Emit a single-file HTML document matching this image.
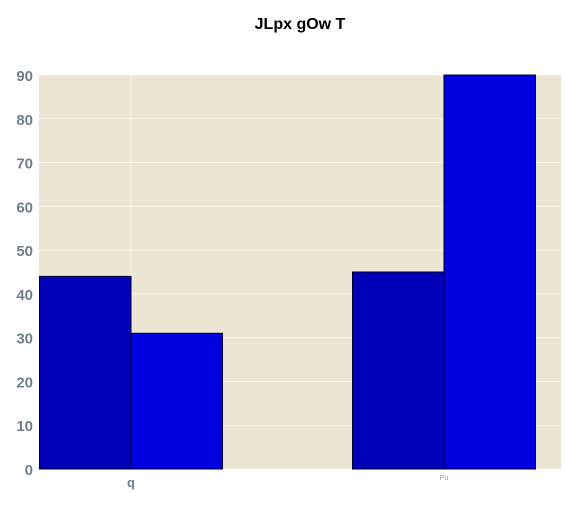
<!DOCTYPE html>
<html><head><meta charset="utf-8"><style>
body{margin:0;background:#fff;font-family:"Liberation Sans",sans-serif}
</style></head><body>
<svg width="576" height="504">
<text x="300" y="29" text-anchor="middle" font-size="16" font-weight="bold" fill="#000">JLpx gOw T</text>
<rect x="39" y="75" width="522" height="394" fill="#ede5d3"/>
<g id="grid"></g><g id="bars"></g><g id="axes"></g>
</svg>
<script>
const categories=["q","Pu"];
const series1=[44,45];
const series2=[31,90];
const yTicks=[0,10,20,30,40,50,60,70,80,90];
const colors=["#0000b8","#0000e0"];
const ns="http://www.w3.org/2000/svg";
function y(v){return 469-v*(394/90);}
function x(i){return 131+313*i;}
const bw=91.5;
function mk(t,a,p){const e=document.createElementNS(ns,t);for(const k in a)e.setAttribute(k,a[k]);document.getElementById(p).appendChild(e);return e;}
yTicks.forEach(t=>{
 const l=mk("line",{x1:39,x2:561,y1:y(t),y2:y(t),stroke:"#faf5ea","stroke-width":1},"grid");
 
 
 const tx=mk("text",{x:33,y:y(t)+6,"text-anchor":"end","font-size":"15","font-weight":"bold",fill:"#6e7f88"},"axes");
 tx.textContent=t;
 
 
});
categories.forEach((c,i)=>{
 const g=mk("line",{x1:x(i),x2:x(i),y1:75,y2:469,stroke:"#faf5ea","stroke-width":1},"grid");
 
 
 [series1,series2].forEach((s,j)=>{
  const bx=j===0?x(i)-bw:x(i);
  const r=mk("rect",{x:bx,y:y(s[i]),width:bw,height:469-y(s[i]),fill:colors[j],stroke:"#000033","stroke-width":1},"bars");
  
  
 });
 const tx=mk("text",{x:x(i),y:i===0?487:480,"text-anchor":"middle","font-size":i===0?"13":"7","font-weight":i===0?"bold":"normal",fill:i===0?"#6e7f88":"#999"},"axes");
 tx.textContent=c;
 
 
});
</script>
</body></html>
